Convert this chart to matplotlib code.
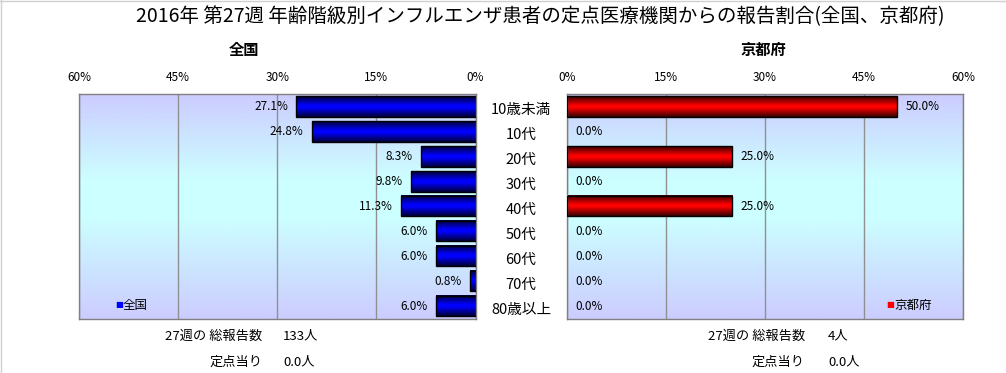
import numpy as np
import matplotlib
matplotlib.use("Agg")
import matplotlib.pyplot as plt
from matplotlib.colors import LinearSegmentedColormap
from matplotlib.transforms import blended_transform_factory
from matplotlib.lines import Line2D

plt.rcParams['font.family'] = ['Noto Sans CJK JP', 'DejaVu Sans']

categories = ['10歳未満', '10代', '20代', '30代', '40代', '50代', '60代', '70代', '80歳以上']
national = [27.1, 24.8, 8.3, 9.8, 11.3, 6.0, 6.0, 0.8, 6.0]
kyoto = [50.0, 0.0, 25.0, 0.0, 25.0, 0.0, 0.0, 0.0, 0.0]
xticks = [0, 15, 30, 45, 60]
xticklabels = ['0%', '15%', '30%', '45%', '60%']
title = '2016年 第27週 年齢階級別インフルエンザ患者の定点医療機関からの報告割合(全国、京都府)'
left_name = '全国'
right_name = '京都府'
left_total = ['27週の 総報告数', '133人']
left_per = ['定点当り', '0.0人']
right_total = ['27週の 総報告数', '4人']
right_per = ['定点当り', '0.0人']

W, H = 1006, 373
fig = plt.figure(figsize=(W / 100, H / 100), dpi=100)
fig.patch.set_facecolor('white')

def fx(px):
    return px / W

def fy(py):
    return 1 - py / H

axL = fig.add_axes([fx(79), fy(318.5), fx(396.5), (318.5 - 94) / H])
axR = fig.add_axes([fx(566.7), fy(318.5), fx(396.3), (318.5 - 94) / H])

bg_cmap = LinearSegmentedColormap.from_list('bg', [(0, '#ccccff'), (0.45, '#ccffff'), (0.62, '#ccffff'), (1, '#ccccff')])
blue_cmap = LinearSegmentedColormap.from_list('bl', [(0, '#000033'), (0.45, '#0000ff'), (0.55, '#0000ff'), (1, '#000033')])
red_cmap = LinearSegmentedColormap.from_list('rd', [(0, '#330000'), (0.45, '#ff0000'), (0.55, '#ff0000'), (1, '#330000')])

grad = np.linspace(0, 1, 256).reshape(-1, 1)
y = np.arange(len(categories))
bar_h = 0.82

def setup(ax, vals, cmap, left):
    ax.imshow(grad, aspect='auto', cmap=bg_cmap, extent=[0, 1, 1, 0],
              transform=ax.transAxes, zorder=0)
    edges = ['black' if v > 0 else 'none' for v in vals]
    bars = ax.barh(y, vals, height=bar_h, facecolor='none', edgecolor=edges,
                   linewidth=1.0, zorder=3)
    for b, v in zip(bars, vals):
        if v <= 0:
            continue
        x0, y0, w, h = b.get_x(), b.get_y(), b.get_width(), b.get_height()
        ax.imshow(grad, aspect='auto', cmap=cmap,
                  extent=[x0, x0 + w, y0 + h, y0], zorder=2)
    ax.set_ylim(len(categories) - 0.5, -0.5)
    if left:
        ax.set_xlim(60, 0)
    else:
        ax.set_xlim(0, 60)
    ax.set_xticks(xticks)
    ax.set_xticklabels(xticklabels)
    ax.xaxis.tick_top()
    ax.tick_params(axis='x', length=0, pad=7, labelsize=8.5)
    ax.set_yticks([])
    ax.grid(axis='x', color='#909090', linewidth=1.0, zorder=1)
    ax.set_axisbelow(True)
    for s in ax.spines.values():
        s.set_color('#808080')
        s.set_linewidth(1.0)
    for yi, v in zip(y, vals):
        if left:
            ax.annotate(f'{v:.1f}%', (v, yi), xytext=(-6, 0), textcoords='offset points',
                        ha='right', va='center', fontsize=8.5, zorder=5)
        else:
            ax.annotate(f'{v:.1f}%', (v, yi), xytext=(6, 0), textcoords='offset points',
                        ha='left', va='center', fontsize=8.5, zorder=5)

setup(axL, national, blue_cmap, True)
setup(axR, kyoto, red_cmap, False)

# category labels between panels
tr = blended_transform_factory(fig.transFigure, axL.transData)
for yi, c in zip(y, categories):
    fig.text(fx(521), yi + 0.16, c, transform=tr, ha='center', va='center', fontsize=10.5)

# titles
fig.text(fx(540), fy(17), title, ha='center', va='center', fontsize=14)
fig.text(fx(244), fy(50), left_name, ha='center', va='center', fontsize=11, fontweight='bold')
fig.text(fx(763), fy(50), right_name, ha='center', va='center', fontsize=11, fontweight='bold')

# legends
def legend(xpx, ypx, color, label):
    fig.text(fx(xpx), fy(ypx), '■', color=color, ha='left', va='center', fontsize=6,
             family=['DejaVu Sans'])
    fig.text(fx(xpx + 8), fy(ypx), label, ha='left', va='center', fontsize=9)

legend(115, 305, '#0000ff', left_name)
legend(886, 305, '#ff0000', right_name)

# summary texts
def summary(xr, xl, tot, per):
    fig.text(fx(xr), fy(336), tot[0], ha='right', va='center', fontsize=9.5)
    fig.text(fx(xl), fy(336), tot[1], ha='left', va='center', fontsize=9.5)
    fig.text(fx(xr), fy(362), per[0], ha='right', va='center', fontsize=9.5)
    fig.text(fx(xl), fy(362), per[1], ha='left', va='center', fontsize=9.5)

summary(262, 283, left_total, left_per)
summary(805, 828, right_total, right_per)

# outer border lines (top and left)
fig.add_artist(Line2D([0, 1], [fy(0.5), fy(0.5)], transform=fig.transFigure, color='#d0d0d0', linewidth=1))
fig.add_artist(Line2D([fx(0.5), fx(0.5)], [0, 1], transform=fig.transFigure, color='#d0d0d0', linewidth=1))

fig.savefig('out.png', dpi=100)
